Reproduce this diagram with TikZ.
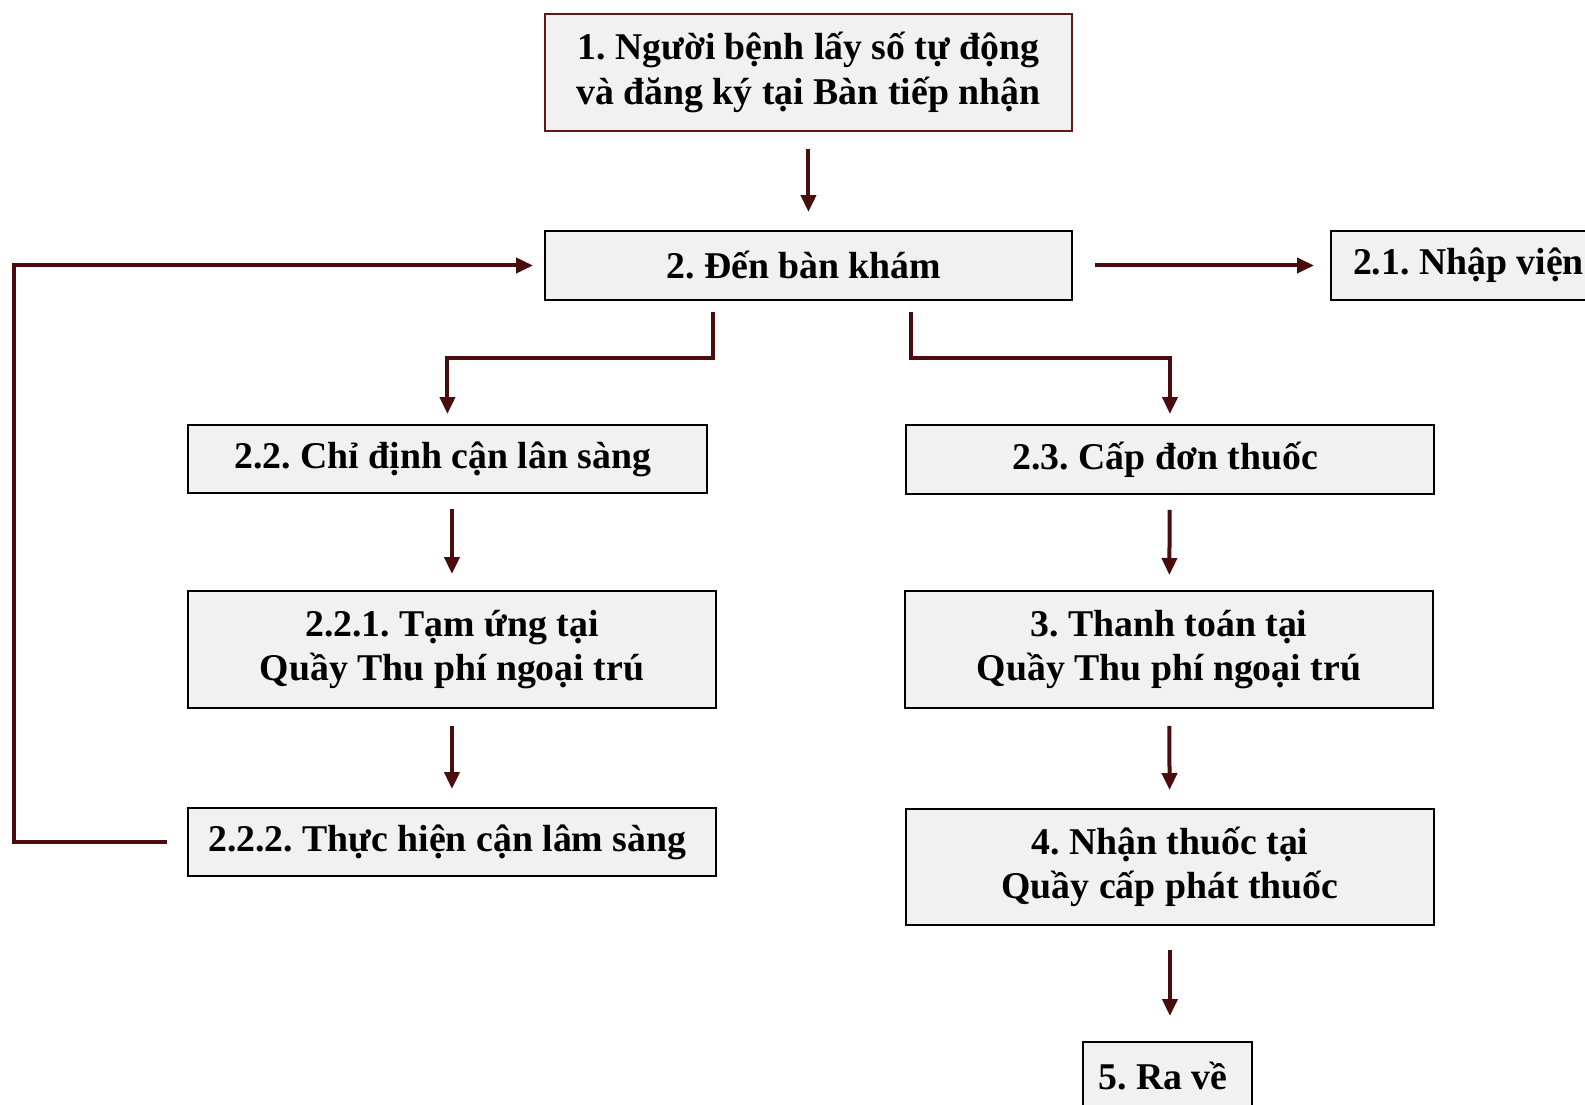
\documentclass[tikz,border=0pt]{standalone}
\usepackage{fontspec}
\setmainfont{Liberation Serif}
\usepackage{tikz}
\usetikzlibrary{arrows.meta, positioning}
\definecolor{arrowred}{rgb}{0.29,0.05,0.05}
\definecolor{borderred}{rgb}{0.36,0.1,0.1}
\definecolor{boxgray}{rgb}{0.945,0.945,0.945}
\tikzset{
	box/.style={draw=black, fill=boxgray, line width=0.04cm, align=center, inner xsep=0.2cm,
		font=\fontsize{21.5}{25.3}\selectfont\bfseries\frenchspacing},
	flow/.style={-{Triangle[length=0.34cm,width=0.3cm]}, arrowred, line width=0.08cm}
}

\begin{document}
\begin{tikzpicture}[x=0.02cm,y=-0.02cm]
			\useasboundingbox (0,0) rectangle (1585,1105);
			
			%----------------------------------------------------------------
			\node(register) [box,draw=borderred,minimum width=10.54cm,minimum height=2.34cm,anchor=north west] at (544,13) { 1. Người bệnh lấy số tự động \\ và đăng ký tại Bàn tiếp nhận } ;
			\node(exam) [box,minimum width=10.54cm,minimum height=1.38cm,anchor=north west] at (544,230) { 2. Đến bàn khám } ;
			\node(admit) [box,minimum height=1.38cm,inner xsep=0.44cm,anchor=north west] at (1330,230) { 2.1. Nhập viện } ;
			
			%----------------------------------------------------------------
			\node(labord) [box,minimum width=10.38cm,minimum height=1.36cm,anchor=north west] at (187,424) { 2.2. Chỉ định cận lân sàng } ;
			\node(advance) [box,minimum width=10.56cm,minimum height=2.34cm,anchor=north west] at (187,590) { 2.2.1. Tạm ứng tại \\ Quầy Thu phí ngoại trú } ;
			\node(labtest) [box,minimum width=10.56cm,minimum height=1.36cm,anchor=north west] at (187,807) { 2.2.2. Thực hiện cận lâm sàng } ;
			
			%----------------------------------------------------------------
			\node(prescribe) [box,minimum width=10.56cm,minimum height=1.38cm,anchor=north west] at (905,424) { 2.3. Cấp đơn thuốc } ;
			\node(payment) [box,minimum width=10.56cm,minimum height=2.34cm,anchor=north west] at (904,590) { 3. Thanh toán tại \\ Quầy Thu phí ngoại trú } ;
			\node(pickup) [box,minimum width=10.56cm,minimum height=2.32cm,anchor=north west] at (905,808) { 4. Nhận thuốc tại \\ Quầy cấp phát thuốc } ;
			\node(leave) [box,minimum width=3.38cm,minimum height=1.38cm,anchor=north west] at (1082,1041) { 5. Ra về } ;
			
			%----------------------------------------------------------------
			\draw [flow,shorten <=0.34cm,shorten >=0.36cm] (register) -- (exam);
			\draw [flow,shorten <=0.44cm,shorten >=0.32cm] (exam) -- (admit);
			\draw [flow,shorten <=0.22cm,shorten >=0.2cm] ([xshift=-1.91cm]exam.south) -- ++(0,57) -| (labord);
			\draw [flow,shorten <=0.22cm,shorten >=0.2cm] ([xshift=2.05cm]exam.south) -- ++(0,57) -| (prescribe);
			
			\draw [flow,shorten <=0.3cm,shorten >=0.32cm] (labord.south -| advance) -- (advance);
			\draw [flow,shorten <=0.34cm,shorten >=0.36cm] (advance) -- (labtest);
			\draw [flow,shorten <=0.3cm,shorten >=0.3cm] (prescribe) -- (payment);
			\draw [flow,shorten <=0.34cm,shorten >=0.36cm] (payment) -- (pickup);
			\draw [flow,shorten <=0.48cm,shorten >=0.5cm] (pickup) -- (pickup |- leave.north);
			
			% back to the examination desk
			\draw [flow,shorten <=0.4cm,shorten >=0.22cm] (labtest.west) -- ++(-173,0) |- (exam.west);
			
		\end{tikzpicture}
\end{document}
